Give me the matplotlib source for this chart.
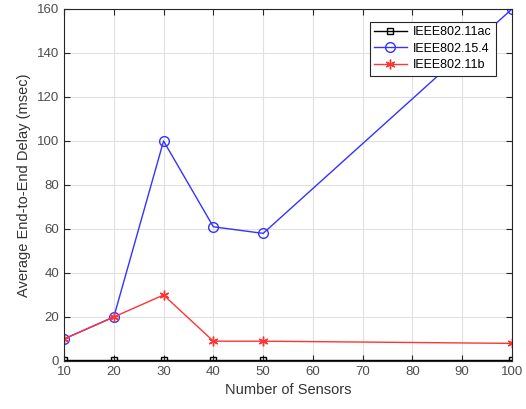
import matplotlib
matplotlib.use("Agg")
import matplotlib.pyplot as plt

# data
sensors = [10, 20, 30, 40, 50, 100]
delay_11ac = [0.3, 0.3, 0.3, 0.3, 0.3, 0.3]
delay_154 = [10, 20, 100, 61, 58, 160]
delay_11b = [10, 20, 30, 9, 9, 8]

x_ticks = [10, 20, 30, 40, 50, 60, 70, 80, 90, 100]
y_ticks = [0, 20, 40, 60, 80, 100, 120, 140, 160]

plt.rcParams['font.family'] = ['Liberation Sans', 'DejaVu Sans']

fig = plt.figure(figsize=(5.26, 4.09), dpi=100)
ax = fig.add_axes([0.1217, 0.1174, 0.8517, 0.8606])

ax.plot(sensors, delay_11ac, color='black', marker='s', markersize=4.5,
        markerfacecolor='none', linewidth=1, label='IEEE802.11ac')
ax.plot(sensors, delay_154, color='#3333ff', marker='o', markersize=7,
        markerfacecolor='none', linewidth=1, label='IEEE802.15.4')
ax.plot(sensors, delay_11b, color='#ff3333', marker=(6, 2, 0), markersize=7,
        linewidth=1, label='IEEE802.11b')

ax.set_xlim(10, 100)
ax.set_ylim(0, 160)
ax.set_xticks(x_ticks)
ax.set_yticks(y_ticks)
ax.grid(True, color='#e0e0e0', linewidth=0.8)
ax.set_axisbelow(True)

ax.tick_params(direction='in', top=True, right=True, labelsize=9.5,
               colors='#262626', labelcolor='#4d4d4d', length=4)
for s in ax.spines.values():
    s.set_color('#262626')
    s.set_linewidth(0.8)

ax.set_xlabel('Number of Sensors', fontsize=10.5, color='#333333')
ax.set_ylabel('Average End-to-End Delay (msec)', fontsize=10.5, color='#333333')

leg = ax.legend(loc='upper right', bbox_to_anchor=(0.964, 0.963), borderaxespad=0,
                fontsize=9, fancybox=False, framealpha=1, edgecolor='#262626',
                borderpad=0.35, handlelength=2.6, handletextpad=0.5,
                labelspacing=0.35)
leg.get_frame().set_linewidth(0.8)

plt.savefig('out.png', dpi=100)
